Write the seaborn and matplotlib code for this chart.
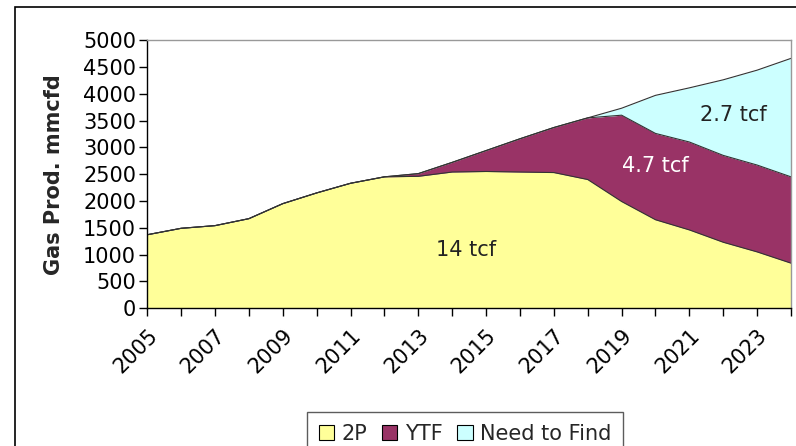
import numpy as np
import pandas as pd
import seaborn as sns
import matplotlib.pyplot as plt
from matplotlib.patches import Rectangle, Patch

# values (mmcfd)
years = list(range(2005, 2025))
p2 = [1370, 1490, 1540, 1670, 1950, 2150, 2330, 2450, 2460, 2540,
      2550, 2540, 2530, 2400, 1990, 1650, 1460, 1230, 1050, 840]
ytf = [0, 0, 0, 0, 0, 0, 0, 0, 50, 180,
       390, 620, 840, 1150, 1610, 1610, 1640, 1620, 1620, 1610]
need_to_find = [0, 0, 0, 0, 0, 0, 0, 0, 0, 0,
                0, 0, 0, 0, 130, 710, 1010, 1410, 1770, 2210]
series_names = ["2P", "YTF", "Need to Find"]
colors = ["#FFFF99", "#993366", "#CCFFFF"]

df = pd.DataFrame({"year": years, "2P": p2, "YTF": ytf, "Need to Find": need_to_find})
df["top_ytf"] = df["2P"] + df["YTF"]
df["total"] = df["top_ytf"] + df["Need to Find"]

sns.set_theme(style="ticks")
plt.rcParams['font.family'] = ['DejaVu Sans']

fig = plt.figure(figsize=(7.96, 4.46), dpi=100)
ax = fig.add_axes([0.185, 0.309, 0.8087, 0.601])

ax.stackplot(df["year"], df["2P"], df["YTF"], df["Need to Find"],
             colors=colors, linewidth=0)
for col in ["2P", "top_ytf", "total"]:
    sns.lineplot(x="year", y=col, data=df, ax=ax, color="#333333", linewidth=0.8)

ax.set_xlim(2005, 2024)
ax.set_ylim(0, 5000)
ax.set_yticks(range(0, 5001, 500))
ax.set_xticks(years)
ax.set_xticklabels([str(y) if (y - 2005) % 2 == 0 else "" for y in years],
                   rotation=45, ha="right", rotation_mode="anchor")
ax.tick_params(axis="both", labelsize=15, length=6, width=1, color="black", labelcolor="black")
ax.tick_params(axis="y", pad=2)
ax.tick_params(axis="x", pad=6)
ax.set_xlabel("")
ax.set_ylabel("Gas Prod. mmcfd", fontsize=15, fontweight="bold")
ax.yaxis.set_label_coords(-0.13, 0.5)

for s in ["left", "bottom"]:
    ax.spines[s].set_color("black")
    ax.spines[s].set_linewidth(1)
for s in ["top", "right"]:
    ax.spines[s].set_color("#999999")
    ax.spines[s].set_linewidth(1)

ax.text(2014.4, 1080, "14 tcf", fontsize=15, color="#222222", ha="center", va="center")
ax.text(2020.0, 2650, "4.7 tcf", fontsize=15, color="white", ha="center", va="center")
ax.text(2022.3, 3610, "2.7 tcf", fontsize=15, color="#222222", ha="center", va="center")

handles = [Patch(facecolor=c, edgecolor="black", linewidth=0.8) for c in colors]
leg = fig.legend(handles, series_names, loc="lower center", bbox_to_anchor=(465 / 796, -0.03),
                 ncol=3, fontsize=15, frameon=True, fancybox=False, handlelength=0.75,
                 handleheight=0.75, handletextpad=0.35, columnspacing=0.7, borderpad=0.55,
                 borderaxespad=0.2)
leg.get_frame().set_edgecolor("#333333")
leg.get_frame().set_linewidth(1)

# outer chart border
fig.patches.append(Rectangle((15 / 796, -0.05), 1.2, 1 - 7 / 446 + 0.05, transform=fig.transFigure,
                             fill=False, edgecolor="black", linewidth=1.2))

fig.savefig("out.png", dpi=100)
